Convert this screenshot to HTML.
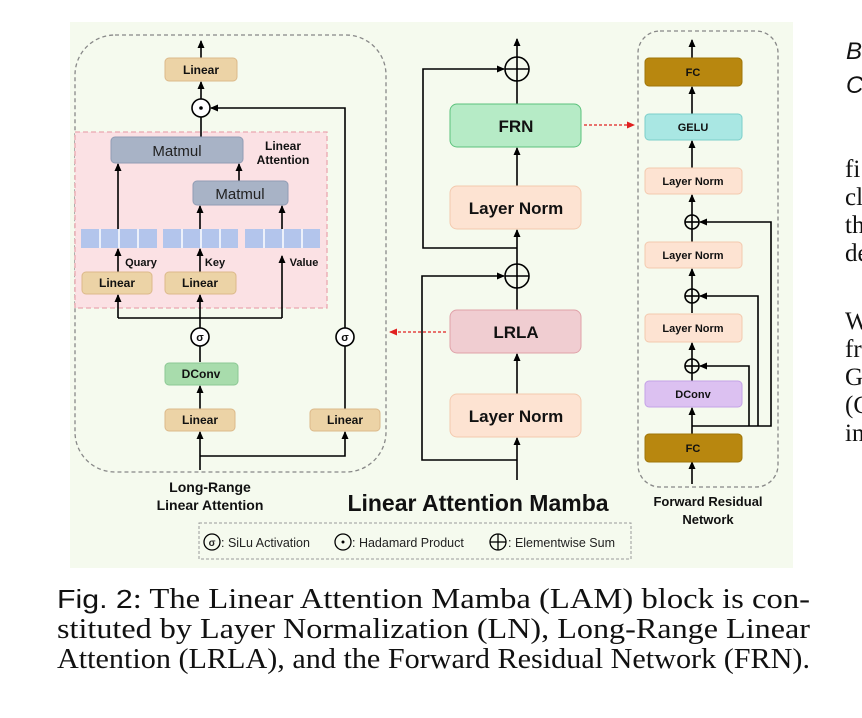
<!DOCTYPE html>
<html><head><meta charset="utf-8"><style>
body{margin:0;background:#fff;width:862px;height:718px;overflow:hidden}
svg{display:block}
.b{font-family:"Liberation Sans",sans-serif;font-weight:bold;fill:#111;text-anchor:middle}
.s{font-family:"Liberation Serif",serif;fill:#111;font-size:28px}
.f{font-family:"Liberation Serif",serif;fill:#111;font-size:25px}
</style></head><body>
<svg width="862" height="718" viewBox="0 0 862 718" xmlns="http://www.w3.org/2000/svg">
<defs>
<marker id="a" markerWidth="8" markerHeight="8" refX="7" refY="4" orient="auto" markerUnits="userSpaceOnUse"><path d="M0,0.5 L8,4 L0,7.5 z" fill="#000"/></marker>
<marker id="r" markerWidth="8" markerHeight="8" refX="7" refY="4" orient="auto" markerUnits="userSpaceOnUse"><path d="M0,0.5 L8,4 L0,7.5 z" fill="#e02020"/></marker>
</defs>
<rect x="70" y="22" width="723" height="546" fill="#f5faee"/>
<rect x="75" y="35" width="311" height="437" rx="40" fill="none" stroke="#888" stroke-width="1.3" stroke-dasharray="4,3"/>
<rect x="75" y="132" width="252" height="176" fill="#fbe1e4" stroke="#eaa8b0" stroke-width="1.3" stroke-dasharray="5,3"/>
<g stroke="#000" stroke-width="1.6" fill="none">
<line x1="201" y1="58" x2="201" y2="41" marker-end="url(#a)"/>
<line x1="201" y1="99" x2="201" y2="82" marker-end="url(#a)"/>
<line x1="201" y1="137" x2="201" y2="117"/>
<polyline points="345,409 345,346"/>
<polyline points="345,328 345,108 211,108" marker-end="url(#a)"/>
<line x1="118" y1="229" x2="118" y2="164" marker-end="url(#a)"/>
<line x1="239" y1="181" x2="239" y2="164" marker-end="url(#a)"/>
<line x1="200" y1="229" x2="200" y2="206" marker-end="url(#a)"/>
<line x1="282" y1="229" x2="282" y2="206" marker-end="url(#a)"/>
<line x1="118" y1="272" x2="118" y2="249" marker-end="url(#a)"/>
<line x1="200" y1="272" x2="200" y2="249" marker-end="url(#a)"/>
<line x1="118" y1="318" x2="118" y2="295" marker-end="url(#a)"/>
<line x1="200" y1="318" x2="200" y2="295" marker-end="url(#a)"/>
<polyline points="282,318 282,256" marker-end="url(#a)"/>
<polyline points="118,318 282,318"/>
<line x1="200" y1="318" x2="200" y2="328"/>
<line x1="200" y1="346" x2="200" y2="362"/>
<line x1="200" y1="409" x2="200" y2="386" marker-end="url(#a)"/>
<line x1="200" y1="470" x2="200" y2="432" marker-end="url(#a)"/>
<polyline points="200,456 345,456 345,432" marker-end="url(#a)"/>
</g>
<rect x="165" y="58" width="72" height="23" rx="4" fill="#ecd3a6" stroke="#dcb98a"/>
<text class="b" x="201" y="74" font-size="12">Linear</text>
<circle cx="201" cy="108" r="9" fill="#fff" stroke="#000" stroke-width="1.6"/>
<circle cx="201" cy="108" r="1.8" fill="#000"/>
<rect x="111" y="137" width="132" height="26" rx="4" fill="#a8b3c6" stroke="#909cb4"/>
<text x="177" y="156" font-size="15" font-family="Liberation Sans,sans-serif" text-anchor="middle" fill="#222">Matmul</text>
<rect x="193" y="181" width="95" height="24" rx="4" fill="#a8b3c6" stroke="#909cb4"/>
<text x="240" y="199" font-size="15" font-family="Liberation Sans,sans-serif" text-anchor="middle" fill="#222">Matmul</text>
<text class="b" x="283" y="150" font-size="12">Linear</text>
<text class="b" x="283" y="164" font-size="12">Attention</text>
<g fill="#b3c5ec">
<rect x="81" y="229" width="76" height="19"/><rect x="163" y="229" width="75" height="19"/><rect x="245" y="229" width="75" height="19"/>
</g>
<g stroke="#fff" stroke-width="1.5">
<line x1="100" y1="229" x2="100" y2="248"/><line x1="119" y1="229" x2="119" y2="248"/><line x1="138" y1="229" x2="138" y2="248"/>
<line x1="182" y1="229" x2="182" y2="248"/><line x1="201" y1="229" x2="201" y2="248"/><line x1="220" y1="229" x2="220" y2="248"/>
<line x1="264" y1="229" x2="264" y2="248"/><line x1="283" y1="229" x2="283" y2="248"/><line x1="302" y1="229" x2="302" y2="248"/>
</g>
<text class="b" x="141" y="266" font-size="11">Quary</text>
<text class="b" x="215" y="266" font-size="11">Key</text>
<text class="b" x="304" y="266" font-size="11">Value</text>
<rect x="82" y="272" width="70" height="22" rx="4" fill="#ecd3a6" stroke="#dcb98a"/>
<text class="b" x="117" y="287" font-size="12">Linear</text>
<rect x="165" y="272" width="71" height="22" rx="4" fill="#ecd3a6" stroke="#dcb98a"/>
<text class="b" x="200" y="287" font-size="12">Linear</text>
<circle cx="200" cy="337" r="9" fill="#fff" stroke="#000" stroke-width="1.6"/>
<text class="b" x="200" y="341" font-size="11">σ</text>
<circle cx="345" cy="337" r="9" fill="#fff" stroke="#000" stroke-width="1.6"/>
<text class="b" x="345" y="341" font-size="11">σ</text>
<rect x="165" y="363" width="73" height="22" rx="4" fill="#a8dcac" stroke="#8cc894"/>
<text class="b" x="201" y="378" font-size="12">DConv</text>
<rect x="165" y="409" width="70" height="22" rx="4" fill="#ecd3a6" stroke="#dcb98a"/>
<text class="b" x="200" y="424" font-size="12">Linear</text>
<rect x="310" y="409" width="70" height="22" rx="4" fill="#ecd3a6" stroke="#dcb98a"/>
<text class="b" x="345" y="424" font-size="12">Linear</text>
<text class="b" x="210" y="492" font-size="14">Long-Range</text>
<text class="b" x="210" y="510" font-size="14">Linear Attention</text>

<g stroke="#000" stroke-width="1.6" fill="none">
<line x1="517" y1="57" x2="517" y2="39" marker-end="url(#a)"/>
<line x1="517" y1="104" x2="517" y2="81"/>
<line x1="517" y1="186" x2="517" y2="148" marker-end="url(#a)"/>
<line x1="517" y1="264" x2="517" y2="230" marker-end="url(#a)"/>
<polyline points="517,248 423,248 423,69 504,69" marker-end="url(#a)"/>
<line x1="517" y1="310" x2="517" y2="288"/>
<line x1="517" y1="394" x2="517" y2="354" marker-end="url(#a)"/>
<line x1="517" y1="480" x2="517" y2="438" marker-end="url(#a)"/>
<polyline points="517,460 422,460 422,276 504,276" marker-end="url(#a)"/>
<circle cx="517" cy="69" r="12"/><line x1="505" y1="69" x2="529" y2="69"/><line x1="517" y1="57" x2="517" y2="81"/>
<circle cx="517" cy="276" r="12"/><line x1="505" y1="276" x2="529" y2="276"/><line x1="517" y1="264" x2="517" y2="288"/>
</g>
<rect x="450" y="104" width="131" height="43" rx="7" fill="#b6ebc6" stroke="#5cc27c"/>
<text class="b" x="516" y="132" font-size="17">FRN</text>
<rect x="450" y="186" width="131" height="43" rx="7" fill="#fde3d2" stroke="#f3c9ae"/>
<text class="b" x="516" y="214" font-size="17">Layer Norm</text>
<rect x="450" y="310" width="131" height="43" rx="7" fill="#f0cdd1" stroke="#dfa1a8"/>
<text class="b" x="516" y="338" font-size="17">LRLA</text>
<rect x="450" y="394" width="131" height="43" rx="7" fill="#fde3d2" stroke="#f3c9ae"/>
<text class="b" x="516" y="422" font-size="17">Layer Norm</text>
<line x1="446" y1="332" x2="390" y2="332" stroke="#e02020" stroke-width="1.3" stroke-dasharray="3,2" marker-end="url(#r)"/>
<line x1="584" y1="125" x2="634" y2="125" stroke="#e02020" stroke-width="1.3" stroke-dasharray="3,2" marker-end="url(#r)"/>
<text class="b" x="478" y="511" font-size="23">Linear Attention Mamba</text>

<rect x="638" y="31" width="140" height="456" rx="22" fill="none" stroke="#888" stroke-width="1.3" stroke-dasharray="4,3"/>
<g stroke="#000" stroke-width="1.6" fill="none">
<line x1="692" y1="58" x2="692" y2="40" marker-end="url(#a)"/>
<line x1="692" y1="114" x2="692" y2="87" marker-end="url(#a)"/>
<line x1="692" y1="168" x2="692" y2="141" marker-end="url(#a)"/>
<line x1="692" y1="215" x2="692" y2="195" marker-end="url(#a)"/>
<line x1="692" y1="242" x2="692" y2="215"/>
<line x1="692" y1="289" x2="692" y2="269" marker-end="url(#a)"/>
<line x1="692" y1="313" x2="692" y2="289"/>
<line x1="692" y1="359" x2="692" y2="343" marker-end="url(#a)"/>
<line x1="692" y1="381" x2="692" y2="359"/>
<line x1="692" y1="434" x2="692" y2="408" marker-end="url(#a)"/>
<line x1="692" y1="484" x2="692" y2="462" marker-end="url(#a)"/>
<polyline points="692,426 771,426 771,222 700,222" marker-end="url(#a)"/>
<polyline points="758,426 758,296 700,296" marker-end="url(#a)"/>
<polyline points="749,426 749,366 700,366" marker-end="url(#a)"/>
<circle cx="692" cy="222" r="7"/><line x1="685" y1="222" x2="699" y2="222"/>
<circle cx="692" cy="296" r="7"/><line x1="685" y1="296" x2="699" y2="296"/>
<circle cx="692" cy="366" r="7"/><line x1="685" y1="366" x2="699" y2="366"/>
</g>
<rect x="645" y="58" width="97" height="28" rx="4" fill="#b8870f" stroke="#a07608"/>
<text class="b" x="693" y="76" font-size="11">FC</text>
<rect x="645" y="114" width="97" height="26" rx="4" fill="#a9e7e3" stroke="#7ccfca"/>
<text class="b" x="693" y="131" font-size="11">GELU</text>
<rect x="645" y="168" width="97" height="26" rx="4" fill="#fde3d2" stroke="#f3c9ae"/>
<text class="b" x="693" y="185" font-size="11">Layer Norm</text>
<rect x="645" y="242" width="97" height="26" rx="4" fill="#fde3d2" stroke="#f3c9ae"/>
<text class="b" x="693" y="259" font-size="11">Layer Norm</text>
<rect x="645" y="314" width="97" height="28" rx="4" fill="#fde3d2" stroke="#f3c9ae"/>
<text class="b" x="693" y="332" font-size="11">Layer Norm</text>
<rect x="645" y="381" width="97" height="26" rx="4" fill="#dcc1f1" stroke="#c4a2e6"/>
<text class="b" x="693" y="398" font-size="11">DConv</text>
<rect x="645" y="434" width="97" height="28" rx="4" fill="#b8870f" stroke="#a07608"/>
<text class="b" x="693" y="452" font-size="11">FC</text>
<text class="b" x="708" y="506" font-size="13">Forward Residual</text>
<text class="b" x="708" y="524" font-size="13">Network</text>

<rect x="199" y="523" width="432" height="36" fill="none" stroke="#999" stroke-dasharray="3,2"/>
<g font-family="Liberation Sans,sans-serif" font-size="12.5" fill="#222">
<circle cx="212" cy="542" r="8" fill="none" stroke="#000" stroke-width="1.3"/><text x="212" y="546" text-anchor="middle" font-size="10" font-weight="bold">σ</text>
<text x="221" y="547">: SiLu Activation</text>
<circle cx="343" cy="542" r="8" fill="none" stroke="#000" stroke-width="1.3"/><circle cx="343" cy="542" r="1.5" fill="#000"/>
<text x="352" y="547">: Hadamard Product</text>
<circle cx="498" cy="542" r="8" fill="none" stroke="#000" stroke-width="1.3"/><line x1="490" y1="542" x2="506" y2="542" stroke="#000" stroke-width="1.3"/><line x1="498" y1="534" x2="498" y2="550" stroke="#000" stroke-width="1.3"/>
<text x="508" y="547">: Elementwise Sum</text>
</g>

<text x="57" y="608" class="s" textLength="753" lengthAdjust="spacingAndGlyphs"><tspan font-family="Liberation Sans,sans-serif" font-size="26">Fig. 2</tspan>: The Linear Attention Mamba (LAM) block is con-</text>
<text x="57" y="638" class="s" textLength="753" lengthAdjust="spacingAndGlyphs">stituted by Layer Normalization (LN), Long-Range Linear</text>
<text x="57" y="668" class="s" textLength="753" lengthAdjust="spacingAndGlyphs">Attention (LRLA), and the Forward Residual Network (FRN).</text>

<g font-family="Liberation Sans,sans-serif" font-style="italic" font-size="24" fill="#111">
<text x="846" y="59">B</text><text x="846" y="93">C</text>
</g>
<text x="845" y="177" class="f">fi</text><text x="845" y="205" class="f">cl</text><text x="845" y="233" class="f">th</text><text x="845" y="261" class="f">de</text>
<text x="845" y="329" class="f">W</text><text x="845" y="357" class="f">fr</text><text x="845" y="385" class="f">G</text><text x="845" y="413" class="f">(C</text><text x="845" y="441" class="f">in</text>
</svg>
</body></html>
